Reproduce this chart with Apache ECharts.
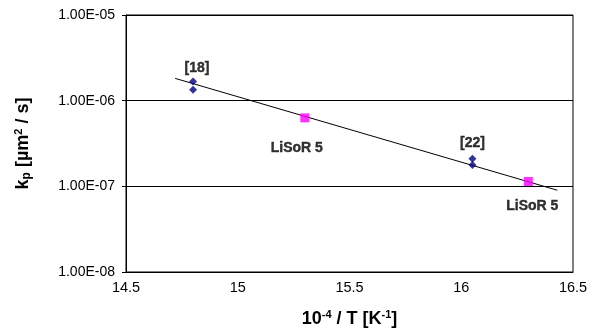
<!DOCTYPE html>
<html>
<head>
<meta charset="utf-8">
<script src="https://cdn.jsdelivr.net/npm/echarts@6/dist/echarts.min.js"></script>
<style>
  html, body { margin: 0; padding: 0; background: #fff; }
  #chart { width: 600px; height: 334px; }
</style>
</head>
<body>
<div id="chart"></div>
<script>
// reference data [18] and [22]
var refX = [14.8, 14.8, 16.05, 16.05];
var refY = [1.67e-6, 1.34e-6, 2.1e-7, 1.78e-7];
// LiSoR 5 points
var lisorX = [15.3, 16.3];
var lisorY = [6.3e-7, 1.14e-7];
// fitted line ends
var fitX = [14.72, 16.43];
var fitY = [1.82e-6, 9.0e-8];
var yTicks = ['1.00E-08', '1.00E-07', '1.00E-06', '1.00E-05'];

var font = '"Liberation Sans", Arial, sans-serif';
var labelStyle = {
  show: true, color: '#000000', fontFamily: font, fontWeight: 'bold', fontSize: 14,
  textBorderColor: '#000000', textBorderWidth: 0.4
};

var refData = refX.map(function (x, i) { return [x, refY[i]]; });
refData[0] = { value: refData[0], label: Object.assign({}, labelStyle, { formatter: '[18]', position: 'top', distance: 2, offset: [4, 0] }) };
refData[2] = { value: refData[2], label: Object.assign({}, labelStyle, { formatter: '[22]', position: 'top', distance: 5, offset: [0, 0] }) };

var lisorData = lisorX.map(function (x, i) { return [x, lisorY[i]]; });
lisorData[0] = { value: lisorData[0], label: Object.assign({}, labelStyle, { formatter: 'LiSoR 5', position: 'bottom', distance: 19, offset: [-8, 0] }) };
lisorData[1] = { value: lisorData[1], label: Object.assign({}, labelStyle, { formatter: 'LiSoR 5', position: 'bottom', distance: 13, offset: [4, 0] }) };

var chart = echarts.init(document.getElementById('chart'));
chart.setOption({
  animation: false,
  grid: { left: 126, right: 27, top: 15, bottom: 59, show: true, borderColor: '#000', borderWidth: 1 },
  xAxis: {
    type: 'value', min: 14.5, max: 16.5, interval: 0.5,
    axisLine: { lineStyle: { color: '#000', width: 1 } },
    axisTick: { show: false },
    splitLine: { show: false },
    axisLabel: { color: '#000', fontFamily: font, fontSize: 14.5, margin: 8 },
    name: '10{sup|-4} / T [K{sup|-1}]',
    nameLocation: 'middle', nameGap: 37,
    nameTextStyle: {
      color: '#000', fontFamily: font, fontWeight: 'bold', fontSize: 18, lineHeight: 20,
      rich: { sup: { fontFamily: font, fontWeight: 'bold', fontSize: 11, verticalAlign: 'top', lineHeight: 20 } }
    }
  },
  yAxis: {
    type: 'log', logBase: 10, min: 1e-8, max: 1e-5,
    axisLine: { show: true, lineStyle: { color: '#000', width: 1 } },
    axisTick: { show: true, length: 4, inside: false, lineStyle: { color: '#000' } },
    minorTick: { show: false },
    splitLine: { show: true, lineStyle: { color: '#000', width: 1 } },
    axisLabel: {
      color: '#000', fontFamily: font, fontSize: 14, margin: 11,
      formatter: function (v) {
        var e = Math.round(Math.log10(v));
        return yTicks[e + 8];
      }
    },
    name: 'k{sub|p} [µm{sup|2} / s]',
    nameLocation: 'middle', nameGap: 93, nameRotate: 90,
    nameTextStyle: {
      color: '#000', fontFamily: font, fontWeight: 'bold', fontSize: 18, lineHeight: 20,
      rich: {
        sup: { fontFamily: font, fontWeight: 'bold', fontSize: 11, verticalAlign: 'top', lineHeight: 20 },
        sub: { fontFamily: font, fontWeight: 'bold', fontSize: 12, verticalAlign: 'bottom', lineHeight: 20 }
      }
    }
  },
  series: [
    {
      type: 'line', data: fitX.map(function (x, i) { return [x, fitY[i]]; }),
      showSymbol: false, symbol: 'none', lineStyle: { color: '#000', width: 1 }, z: 1
    },
    {
      type: 'scatter', data: refData, symbol: 'diamond', symbolSize: 8,
      itemStyle: { color: '#000080' }, z: 3
    },
    {
      type: 'scatter', data: lisorData, symbol: 'rect', symbolSize: 9,
      itemStyle: { color: '#ff00ff' }, z: 3
    }
  ]
});
</script>
</body>
</html>
